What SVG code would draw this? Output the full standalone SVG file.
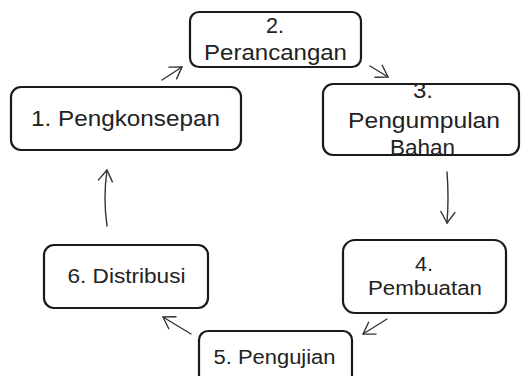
<svg xmlns="http://www.w3.org/2000/svg" width="521" height="376" viewBox="0 0 521 376">
<defs>
<style>
.box{fill:#fff;stroke:#1a1a1a;stroke-width:2.2}
.t{font-family:"Liberation Sans",Arial,sans-serif;fill:#222;text-anchor:middle}
.big{font-size:21.5px}
.sm{font-size:20.5px}
.c{fill:none;stroke:#333;stroke-width:1.4;stroke-linecap:round}
</style>
<marker id="ah" markerUnits="userSpaceOnUse" markerWidth="30" markerHeight="30" refX="15" refY="15" orient="auto">
<polyline points="4,8 15,15 4,22" fill="none" stroke="#333" stroke-width="1.4" stroke-linecap="round" stroke-linejoin="round"/>
</marker>
</defs>
<rect width="521" height="376" fill="#fff"/>
<g id="connectors">
<path class="c" d="M162,80 L182,67" marker-end="url(#ah)"/>
<path class="c" d="M370,66 L388,77" marker-end="url(#ah)"/>
<path class="c" d="M447,172 Q449,198 447,223" marker-end="url(#ah)"/>
<path class="c" d="M387,319 L363,334" marker-end="url(#ah)"/>
<path class="c" d="M191,334 L163,317" marker-end="url(#ah)"/>
<path class="c" d="M107,226 Q103,198 107,170" marker-end="url(#ah)"/>
</g>
<g id="node1">
<rect class="box" x="11" y="87" width="230" height="63" rx="10"/>
<text class="t big" x="125.5" y="126" textLength="189" lengthAdjust="spacingAndGlyphs">1. Pengkonsepan</text>
</g>
<g id="node2">
<rect class="box" x="190" y="12" width="171" height="55" rx="9"/>
<text class="t big" x="275" y="33" textLength="18" lengthAdjust="spacingAndGlyphs">2.</text>
<text class="t big" x="275.5" y="60" textLength="143" lengthAdjust="spacingAndGlyphs">Perancangan</text>
</g>
<g id="node3">
<rect class="box" x="323" y="84" width="196" height="71" rx="10"/>
<text class="t big" x="423" y="98" textLength="20" lengthAdjust="spacingAndGlyphs">3.</text>
<text class="t big" x="424" y="128" textLength="152" lengthAdjust="spacingAndGlyphs">Pengumpulan</text>
<text class="t big" x="422.5" y="155" textLength="65" lengthAdjust="spacingAndGlyphs">Bahan</text>
</g>
<g id="node4">
<rect class="box" x="343" y="240" width="163" height="73" rx="12"/>
<text class="t sm" x="424" y="271" textLength="18" lengthAdjust="spacingAndGlyphs">4.</text>
<text class="t sm" x="425" y="295" textLength="114" lengthAdjust="spacingAndGlyphs">Pembuatan</text>
</g>
<g id="node5">
<rect class="box" x="199" y="331" width="153" height="60" rx="9"/>
<text class="t sm" x="274.5" y="364" textLength="122" lengthAdjust="spacingAndGlyphs">5. Pengujian</text>
</g>
<g id="node6">
<rect class="box" x="44" y="245" width="164" height="63" rx="10"/>
<text class="t sm" x="126.5" y="283" textLength="118" lengthAdjust="spacingAndGlyphs">6. Distribusi</text>
</g>
</svg>
